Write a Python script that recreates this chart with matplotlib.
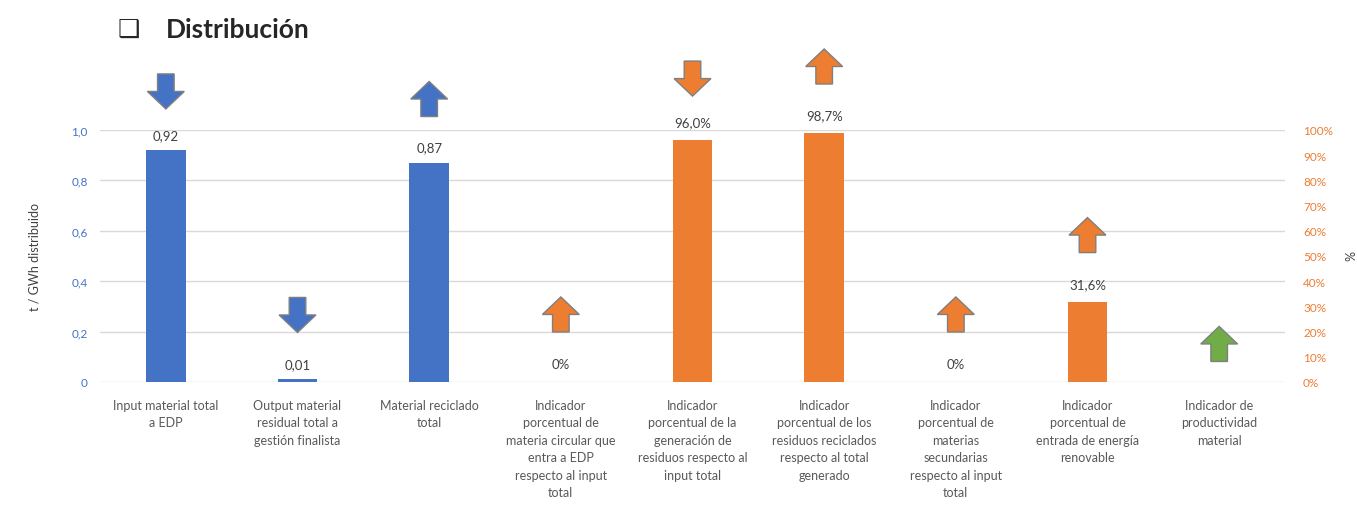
import numpy as np
import matplotlib.pyplot as plt
from matplotlib.patches import Polygon

# Datos
categorias = [
    "Input material total\na EDP",
    "Output material\nresidual total a\ngestión finalista",
    "Material reciclado\ntotal",
    "Indicador\nporcentual de\nmateria circular que\nentra a EDP\nrespecto al input\ntotal",
    "Indicador\nporcentual de la\ngeneración de\nresiduos respecto al\ninput total",
    "Indicador\nporcentual de los\nresiduos reciclados\nrespecto al total\ngenerado",
    "Indicador\nporcentual de\nmaterias\nsecundarias\nrespecto al input\ntotal",
    "Indicador\nporcentual de\nentrada de energía\nrenovable",
    "Indicador de\nproductividad\nmaterial",
]
# serie eje izquierdo (t / GWh distribuido)
idx_t = [0, 1, 2]
val_t = [0.92, 0.01, 0.87]
etq_t = ["0,92", "0,01", "0,87"]
# serie eje derecho (%)
idx_pct = [3, 4, 5, 6, 7]
val_pct = [0.0, 96.0, 98.7, 0.0, 31.6]
etq_pct = ["0%", "96,0%", "98,7%", "0%", "31,6%"]

# flechas de tendencia
flecha_dir = ["down", "down", "up", "up", "down", "up", "up", "up", "up"]
flecha_y = [1.153, 0.266, 1.123, 0.268, 1.204, 1.252, 0.268, 0.583, 0.151]
flecha_col = ["blue", "blue", "blue", "orange", "orange", "orange", "orange", "orange", "green"]

AZUL = "#4472C4"
NARANJA = "#ED7D31"
VERDE = "#70AD47"
colores = {"blue": AZUL, "orange": NARANJA, "green": VERDE}

plt.rcParams['font.family'] = ['Lato', 'DejaVu Sans']

fig = plt.figure(figsize=(13.57, 5.06), dpi=100)
ax = fig.add_axes([100 / 1357, 1 - 383 / 506, 1185 / 1357, 252 / 506])
ax2 = ax.twinx()

ancho = 0.3
ax.bar(idx_t, val_t, width=ancho, color=AZUL, zorder=3)
ax2.bar(idx_pct, val_pct, width=ancho, color=NARANJA, zorder=3)

for x, v, t in zip(idx_t, val_t, etq_t):
    ax.annotate(t, (x, v), xytext=(0, 11), textcoords="offset points",
                ha="center", va="center", fontsize=9.5, color="#404040")
for x, v, t in zip(idx_pct, val_pct, etq_pct):
    ax2.annotate(t, (x, v), xytext=(0, 13), textcoords="offset points",
                 ha="center", va="center", fontsize=9.5, color="#404040")

ax.set_xlim(-0.5, 8.5)
ax.set_ylim(0, 1.0)
ax2.set_ylim(0, 100)

ax.set_yticks(np.arange(0, 1.01, 0.2))
ax.set_yticklabels(["0", "0,2", "0,4", "0,6", "0,8", "1,0"])
ax2.set_yticks(np.arange(0, 101, 10))
ax2.set_yticklabels([f"{int(v)}%" for v in np.arange(0, 101, 10)])

ax.set_xticks(range(len(categorias)))
ax.set_xticklabels(categorias, fontsize=9, color="#595959", linespacing=1.55, va="top")

ax.tick_params(axis="y", length=0, pad=9, labelcolor=AZUL, labelsize=8.5)
ax2.tick_params(axis="y", length=0, pad=13, labelcolor=NARANJA, labelsize=8.5)
ax.tick_params(axis="x", length=0, pad=12)

ax.grid(axis="y", color="#D9D9D9", linewidth=1, zorder=0)
ax.set_axisbelow(True)
for a in (ax, ax2):
    for s in a.spines.values():
        s.set_visible(False)

ax.set_ylabel("t / GWh distribuido", fontsize=9, color="#404040", labelpad=22)
fig.text(1347 / 1357, 1 - 256 / 506, "%", fontsize=9, color="#404040",
         rotation=270, ha="center", va="center")


# flechas
def flecha(x, yc, d, col):
    w, h = 0.28, 0.139
    sw = 0.45 * w
    s = 1 if d == "up" else -1
    pts = [(x - w / 2, yc), (x, yc + s * h / 2), (x + w / 2, yc),
           (x + sw / 2, yc), (x + sw / 2, yc - s * h / 2),
           (x - sw / 2, yc - s * h / 2), (x - sw / 2, yc)]
    p = Polygon(pts, closed=True, facecolor=col, edgecolor="#7F7F7F",
                linewidth=1, clip_on=False, zorder=5)
    ax.add_patch(p)


for i, (d, y, c) in enumerate(zip(flecha_dir, flecha_y, flecha_col)):
    flecha(i, y, d, colores[c])

# titulo
fig.text(118 / 1357, 1 - 30 / 506, "❑", fontsize=18, family="DejaVu Sans",
         color="#262626", va="center", ha="left")
fig.text(166 / 1357, 1 - 30 / 506, "Distribución", fontsize=19, fontweight="bold",
         color="#262626", va="center", ha="left")

fig.savefig("out.png", dpi=100)
